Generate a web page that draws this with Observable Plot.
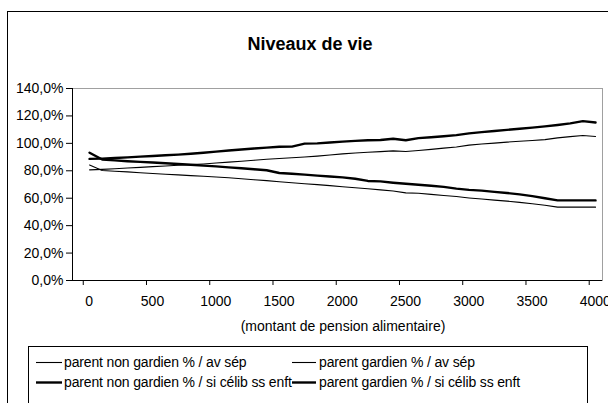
<!DOCTYPE html>
<html>
<head>
<meta charset="utf-8">
<script src="https://cdn.jsdelivr.net/npm/d3@7"></script>
<script src="https://cdn.jsdelivr.net/npm/@observablehq/plot@0.6"></script>
<style>
  body { margin: 0; background: #fff; font-family: "Liberation Sans", Arial, sans-serif; }
  #wrap { position: relative; width: 608px; height: 403px; overflow: hidden; background: #fff; }
  #outer { position: absolute; left: 7px; top: 11px; width: 700px; height: 500px; border: 1px solid #000; box-sizing: border-box; }
  #chart { position: absolute; left: 0; top: 0; }
  #title { position: absolute; left: 0; width: 620px; top: 34px; text-align: center; font-weight: bold; font-size: 18px; line-height: 20px; color: #000; }
  #legend { position: absolute; left: 28px; top: 346px; width: 560px; height: 90px; border: 1px solid #000; box-sizing: border-box; font-size: 14px; letter-spacing: -0.15px; color: #000; }
  .item { position: absolute; height: 16px; line-height: 16px; white-space: nowrap; }
  .item svg { position: absolute; left: 0; top: 0; }
  .item span { position: absolute; top: 0; }
</style>
</head>
<body>
<div id="wrap">
  <div id="outer"></div>
  <div id="chart"></div>
  <div id="title">Niveaux de vie</div>
  <div id="legend"></div>
</div>
<script>
const title = "Niveaux de vie";
const xLabel = "(montant de pension alimentaire)";
const xValues = [50,150,250,350,450,550,650,750,850,950,1050,1150,1250,1350,1450,1550,1650,1750,1850,1950,2050,2150,2250,2350,2450,2550,2650,2750,2850,2950,3050,3150,3250,3350,3450,3550,3650,3750,3850,3950,4050];
const seriesNames = [
  "parent non gardien % / av sép",
  "parent gardien % / av sép",
  "parent non gardien % / si célib ss enft",
  "parent gardien % / si célib ss enft"
];
const nonGardienAvSep = [84.2,80.2,79.7,79.2,78.6,78.0,77.5,77.0,76.5,76.0,75.5,74.9,74.2,73.5,72.8,72.0,71.3,70.6,69.9,69.2,68.4,67.6,66.9,66.1,65.3,63.9,63.6,62.8,62.0,61.2,60.2,59.4,58.6,57.9,57.0,56.0,54.9,53.5,53.5,53.5,53.5];
const gardienAvSep = [80.7,81.0,81.5,82.0,82.5,83.0,83.5,84.0,84.5,85.0,85.7,86.3,87.0,87.7,88.4,89.0,89.5,90.0,90.7,91.5,92.3,93.0,93.5,94.0,94.5,94.1,94.8,95.6,96.5,97.4,98.7,99.5,100.2,100.9,101.5,102.1,102.7,104.0,104.9,105.7,105.0];
const nonGardienCelib = [93.2,88.2,87.6,87.0,86.5,86.0,85.5,85.0,84.4,83.8,83.2,82.5,81.8,81.1,80.4,78.4,77.8,77.2,76.5,75.8,75.2,74.2,72.6,72.3,71.3,70.5,69.8,69.1,68.3,67.0,66.1,65.5,64.6,63.8,62.8,61.5,60.0,58.4,58.4,58.4,58.4];
const gardienCelib = [88.7,88.9,89.3,89.8,90.3,90.8,91.3,91.8,92.4,93.1,94.0,94.8,95.5,96.2,96.9,97.5,97.6,99.8,100.0,100.6,101.3,101.8,102.3,102.4,103.4,102.3,103.8,104.5,105.2,106.0,107.3,108.2,109.0,109.8,110.7,111.5,112.4,113.4,114.6,116.2,115.2];
const seriesValues = [nonGardienAvSep, gardienAvSep, nonGardienCelib, gardienCelib];
const seriesWidths = [1.1, 1.1, 2.4, 2.4];
const yTicks = [0,20,40,60,80,100,120,140];
const xTicks = [0,500,1000,1500,2000,2500,3000,3500,4000];

const fmtPct = v => v.toFixed(1).replace(".", ",") + "%";

const lineMarks = seriesNames.map((name, i) =>
  Plot.line(xValues.map((x, j) => ({x, y: seriesValues[i][j], series: name})),
    {x: "x", y: "y", stroke: "#000", strokeWidth: seriesWidths[i], strokeLinejoin: "round"})
);

const chart = Plot.plot({
  width: 608,
  height: 345,
  marginLeft: 72,
  marginRight: 6,
  marginTop: 88,
  marginBottom: 65,
  x: {domain: [-85, 4105]},
  y: {domain: [0, 140]},
  style: {fontFamily: "'Liberation Sans', Arial, sans-serif", fontSize: "14px", color: "#000", background: "transparent"},
  marks: [
    Plot.frame({stroke: "#a0a0a0"}),
    ...lineMarks,
    Plot.ruleX([-85], {stroke: "#000"}),
    Plot.ruleY([0], {stroke: "#000"}),
    Plot.axisY({ticks: yTicks, tickFormat: fmtPct, tickSize: 6, tickPadding: 3, label: null}),
    Plot.axisX({ticks: xTicks, tickFormat: () => "", tickSize: 5, label: null}),
    Plot.axisX({ticks: xTicks, tickFormat: d => String(d), tickSize: 0, tickPadding: 16, dx: 6, label: null}),
    Plot.text([xLabel], {frameAnchor: "bottom", dy: 50, dx: 5.5, text: d => d, fontSize: 14})
  ]
});
document.getElementById("chart").appendChild(chart);
document.getElementById("title").textContent = title;

const legend = document.getElementById("legend");
const pos = [
  {lineX: 7, lineW: 26, textX: 35, top: 7},
  {lineX: 263, lineW: 24, textX: 290, top: 7},
  {lineX: 7, lineW: 26, textX: 35, top: 27},
  {lineX: 263, lineW: 24, textX: 290, top: 27}
];
seriesNames.forEach((name, i) => {
  const p = pos[i];
  const it = document.createElement("div");
  it.className = "item";
  it.style.left = p.lineX + "px";
  it.style.top = p.top + "px";
  it.innerHTML = `<svg width="${p.lineW}" height="16"><line x1="0" x2="${p.lineW}" y1="8.5" y2="8.5" stroke="#000" stroke-width="${seriesWidths[i]}"/></svg><span style="left:${p.textX - p.lineX}px">${name}</span>`;
  legend.appendChild(it);
});
</script>
</body>
</html>
